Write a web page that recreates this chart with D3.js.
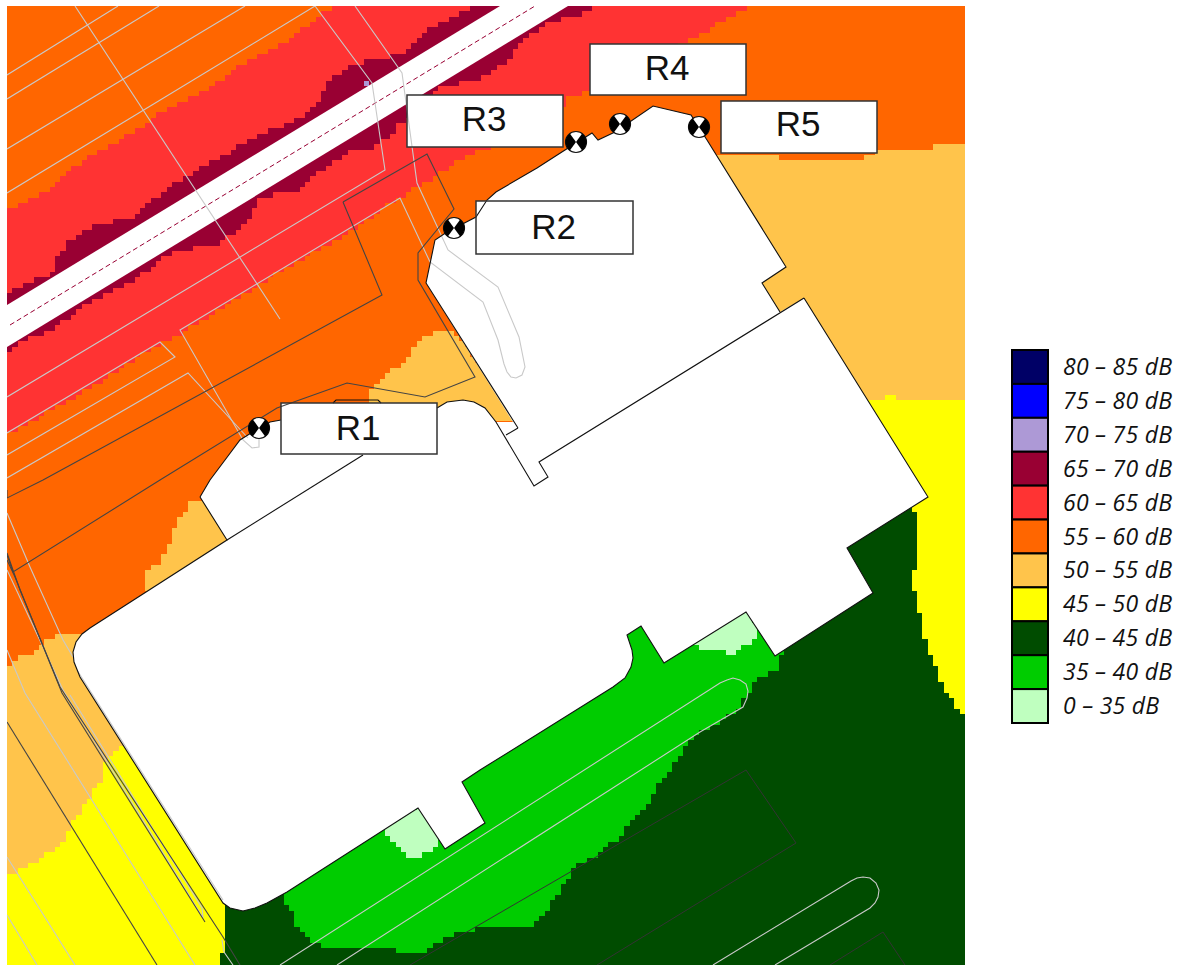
<!DOCTYPE html>
<html lang="en">
<head>
  <meta charset="UTF-8">
  <title>Noise contour map</title>
  <script src="https://d3js.org/d3.v7.min.js"></script>
  <style>
    body { margin: 0; background: #fff; }
    svg { display: block; }
    .site { fill: none; stroke: #c9c9c9; stroke-width: 1.1; }
    .zone { fill: none; stroke: #444; stroke-width: 1.1; }
    .zone-dim { fill: none; stroke: #333; stroke-width: 1; }
    .wall { fill: none; stroke: #111; stroke-width: 1.1; }
    .centre { fill: none; stroke: #990033; stroke-width: 1; stroke-dasharray: 5 3; }
    .receiver-box { fill: none; stroke: #333; stroke-width: 1.5; }
    .receiver-name { font: 35px "Liberation Sans", sans-serif; fill: #111; text-anchor: middle; }
    .legend-name { font: italic 23px "Open Sans", sans-serif; letter-spacing: 0.25px; fill: #111; }
  </style>
</head>
<body>
<svg width="1184" height="965"></svg>

<script>
  // legend
  const bandLabels = ["80 – 85 dB", "75 – 80 dB", "70 – 75 dB", "65 – 70 dB", "60 – 65 dB", "55 – 60 dB",
    "50 – 55 dB", "45 – 50 dB", "40 – 45 dB", "35 – 40 dB", "0 – 35 dB"];
  const bandColors = ["#000066", "#0000ff", "#ad99d6", "#990033", "#ff3333", "#ff6600",
    "#ffc44b", "#ffff00", "#004c00", "#00cc00", "#bfffbf"];

  // contour outlines, map coordinates
  const band60 = [[7,212],[43,193],[80,163],[140,128],[157,115],[213,87],[233,68],[287,42],[317,17],[335,5],
    [755,5],[748,8],[726,20],[707,30],[681,43],[620,75],[581,95],[565,100],[555,130],[480,150],[456,163],[441,172],
    [419,187],[400,197],[333,243],[287,267],[240,297],[200,322],[173,338],[143,353],[100,383],[57,407],[7,435]];
  const band65Upper = [[7,292],[43,277],[57,270],[57,258],[67,243],[90,228],[130,218],[177,182],[197,170],[233,150],
    [257,135],[293,123],[317,107],[328,80],[350,67],[367,60],[400,55],[418,37],[437,25],[474,8],[500,5],[540,30],[7,340]];
  const band65Lower = [[7,353],[20,343],[43,333],[67,320],[83,307],[110,293],[130,283],[150,270],[160,260],[177,250],
    [213,246],[240,230],[250,217],[260,197],[297,190],[323,170],[353,150],[373,147],[393,133],[400,123],[407,118],[427,92],[441,87],
    [485,77],[511,57],[522,38],[548,23],[585,13],[600,5],[540,5],[7,320]];
  const band70 = [[364,81],[370,81],[370,87],[364,87]];
  const band50East = [[715,155],[778,155],[778,160],[862,160],[862,153],[913,150],[955,144],[966,143],[966,405],[959,400],
    [913,400],[889,396],[878,400],[800,400],[700,300]];
  const band50Middle = [[370,403],[370,390],[393,370],[400,368],[418,343],[437,328],[450,328],[530,422],[440,422]];
  const band50West = [[145,590],[145,573],[157,565],[167,552],[177,520],[193,500],[205,498],[235,545],[150,595]];
  const band50South = [[7,667],[17,658],[30,655],[37,647],[47,640],[60,635],[90,635],[160,735],[120,747],[105,760],[103,780],
    [93,793],[83,808],[72,823],[65,840],[43,857],[17,870],[7,878]];
  const band45South = [[7,878],[17,870],[43,857],[65,840],[72,823],[83,808],[93,793],[103,780],[105,760],[120,747],[160,735],[260,905],
    [223,907],[223,955],[218,960],[218,970],[7,970]];
  const band45East = [[878,400],[889,396],[913,400],[959,400],[966,405],[970,713],[960,713],[955,703],[945,688],[940,677],[935,663],
    [930,652],[923,635],[923,615],[918,613],[918,590],[912,588],[912,568],[918,567],[918,517],[910,505],[850,480],[850,400]];
  const band40 = [[910,505],[918,517],[918,567],[912,568],[912,588],[918,590],[918,613],[923,615],[923,635],[930,652],[935,663],
    [940,677],[945,688],[955,703],[960,713],[970,713],[970,970],[218,970],[218,960],[223,955],[223,907],[240,850],[760,560],[880,490]];
  const band35 = [[286,893],[286,907],[297,913],[297,927],[313,943],[327,948],[360,948],[427,953],[430,948],[460,933],[480,928],
    [527,928],[542,917],[553,902],[563,887],[573,868],[593,857],[617,840],[630,823],[647,808],[657,787],[673,767],[683,750],
    [700,730],[720,722],[740,707],[750,690],[757,678],[777,670],[783,653],[770,620],[630,620],[280,880]];
  const band0West = [[385,830],[387,838],[397,848],[408,855],[418,860],[430,850],[440,843],[430,800],[385,825]];
  const band0East = [[693,645],[703,650],[725,652],[725,657],[735,657],[742,647],[750,643],[757,640],[757,630],[746,605],[693,640]];

  // 55-60 dB is the ground colour, later entries paint over earlier ones
  const contourLayers = [
    [band60, "60 – 65 dB"], [band65Upper, "65 – 70 dB"], [band65Lower, "65 – 70 dB"], [band70, "70 – 75 dB"],
    [band40, "40 – 45 dB"], [band50East, "50 – 55 dB"], [band50Middle, "50 – 55 dB"], [band50West, "50 – 55 dB"],
    [band50South, "50 – 55 dB"], [band45South, "45 – 50 dB"], [band45East, "45 – 50 dB"],
    [band35, "35 – 40 dB"], [band0West, "0 – 35 dB"], [band0East, "0 – 35 dB"]
  ];

  // road and buildings
  const roadStrip = [[7,305],[500,6],[568,6],[7,347]];
  const roadCentre = [[10,325],[535,6]];
  const buildingFill = [[200,497],[210,480],[225,460],[240,440],[259,428],[270,422],[281,420],[437,408],[447,402],[463,400],[474,402],
    [485,408],[496,422],[513,422],[426,283],[435,240],[447,232],[476,217],[487,200],[496,192],[537,168],[565,150],[592,133],[598,140],
    [615,132],[653,106],[691,115],[707,140],[786,267],[762,283],[780,312],[804,298],[928,497],[847,548],[873,593],[775,656],[746,612],
    [664,663],[641,626],[627,635],[632,650],[633,658],[631,667],[625,678],[613,687],[480,770],[462,782],[485,823],[445,849],[418,808],[287,892],
    [267,903],[255,908],[243,911],[230,908],[223,903],[80,677],[74,662],[73,652],[76,642],[82,634],[90,628],[227,540]];
  const walls = [
    [[200,497],[210,480],[225,460],[240,440],[259,428],[270,422],[281,420]],
    [[437,408],[447,402],[463,400],[474,402],[485,408],[496,422],[534,486],[548,477],[539,462],[804,298]],
    [[518,428],[426,283],[435,240],[447,232],[476,217],[487,200],[496,192],[537,168],[565,150],[592,133],[598,140],[615,132],
      [653,106],[691,115],[707,140],[786,267],[762,283],[780,312]],
    [[518,428],[506,435]],
    [[804,298],[928,497],[847,548],[873,593],[775,656],[746,612],[664,663],[641,626],[627,635],[632,650],[633,658],[631,667],[625,678],[613,687],
      [480,770],[462,782],[485,823],[445,849],[418,808],[287,892],[267,903],[255,908],[243,911],[230,908],[223,903],[80,677],[74,662],
      [73,652],[76,642],[82,634],[90,628],[227,540],[200,497]],
    [[227,540],[363,455]],
    [[333,403],[336,400],[378,400],[381,403]]
  ];

  // light grey site lines
  const siteLines = [
    [[75,6],[280,319]],
    [[7,75],[118,6]],
    [[7,99],[159,6]],
    [[7,149],[245,6]],
    [[7,193],[315,6]],
    [[7,397],[385,170],[372,83],[315,6]],
    [[259,433],[259,447],[252,448],[243,440],[180,330],[400,198],[430,262],[483,302],[498,340],[504,364],[507,372],[511,377],[516,378],[522,375],[525,367],
      [519,337],[498,287],[448,250],[417,183],[402,73],[355,6]],
    [[7,433],[160,342],[175,357],[7,455]],
    [[7,478],[188,373],[248,438]],
    [[7,513],[30,567],[63,640],[73,657]],
    [[77,670],[223,900]],
    [[7,570],[43,647],[63,690],[203,918],[202,908],[70,695]],
    [[7,650],[25,693],[195,965]],
    [[7,857],[75,965]],
    [[7,915],[37,965]],
    [[222,940],[224,952],[233,965]],
    [[280,965],[720,683],[727,680],[733,678],[740,680],[746,684],[748,691],[747,698],[743,707],[700,732],[337,965]],
    [[713,965],[851,881],[857,878],[863,877],[870,878],[876,883],[879,890],[878,897],[875,903],[870,908],[775,965]]
  ];

  // dark grey zone lines
  const zoneLines = [
    [[343,202],[427,154],[454,209],[418,253],[418,280],[475,377],[425,397],[347,383],[277,408],[160,480],[13,572],[7,555]],
    [[343,202],[382,295],[43,480],[7,498],[7,490]],
    [[7,553],[20,590],[60,687],[223,937],[240,965]],
    [[7,560],[15,577],[62,693],[205,922]],
    [[7,722],[157,965]]
  ];
  const zoneLinesDim = [
    [[410,965],[746,770],[796,843],[597,965]],
    [[830,965],[883,932],[905,965]]
  ];

  // receiver points
  const receiverNames = ["R1", "R2", "R3", "R4", "R5"];
  const receiverPoints = [[259,428],[454,228],[576,142],[620,124],[699,127]];
  const receiverBoxes = [[281,403,437,454],[476,201,633,254],[407,95,563,147],[590,44,746,95],[721,101,877,153]];
  const receiverBaselines = [440,239,131,80,136];

  const svg = d3.select("svg");
  const x = d3.scaleLinear().domain([7, 965]).range([7, 965]);
  const y = d3.scaleLinear().domain([6, 965]).range([6, 965]);
  const line = d3.line().x(d => x(d[0])).y(d => y(d[1]));
  const colorOf = d3.scaleOrdinal().domain(bandLabels).range(bandColors);

  svg.append("clipPath").attr("id", "mapClip").append("rect")
    .attr("x", x(7)).attr("y", y(6)).attr("width", x(965) - x(7)).attr("height", y(965) - y(6));
  const map = svg.append("g").attr("clip-path", "url(#mapClip)");

  map.append("rect")
    .attr("x", x(7)).attr("y", y(6)).attr("width", x(965) - x(7)).attr("height", y(965) - y(6))
    .attr("fill", colorOf("55 – 60 dB"));

  // the calculation grid: each cell takes the colour of the last contour holding its centre
  const cell = 958 / 180;
  const cellPaths = new Map(bandLabels.map(b => [b, d3.path()]));
  for (let i = 0; i < 181; i++) {
    for (let j = 0; j < 181; j++) {
      const cx = 7 + (i + 0.5) * cell;
      const cy = 6 + (j + 0.5) * cell;
      let band = null;
      contourLayers.forEach(layer => {
        if (d3.polygonContains(layer[0], [cx, cy])) band = layer[1];
      });
      if (band) cellPaths.get(band).rect(x(cx - cell / 2), y(cy - cell / 2), cell, cell);
    }
  }
  map.append("g").selectAll("path")
    .data(bandLabels)
    .join("path")
    .attr("d", b => cellPaths.get(b).toString())
    .attr("fill", b => colorOf(b))
    .attr("shape-rendering", "crispEdges");

  map.append("path").attr("d", line(roadStrip) + "Z").attr("fill", "#fff");
  map.append("path").attr("class", "centre").attr("d", line(roadCentre));
  map.append("path").attr("d", line(buildingFill) + "Z").attr("fill", "#fff");

  // box fill goes under the site lines, the border stays on top
  map.append("g").selectAll("rect")
    .data(receiverBoxes)
    .join("rect")
    .attr("x", d => x(d[0])).attr("y", d => y(d[1]))
    .attr("width", d => x(d[2]) - x(d[0])).attr("height", d => y(d[3]) - y(d[1]))
    .attr("fill", "#fff");

  map.append("g").selectAll("path").data(siteLines).join("path").attr("class", "site").attr("d", line);
  map.append("g").selectAll("path").data(zoneLines).join("path").attr("class", "zone").attr("d", line);
  map.append("g").selectAll("path").data(zoneLinesDim).join("path").attr("class", "zone-dim").attr("d", line);
  map.append("g").selectAll("path").data(walls).join("path").attr("class", "wall").attr("d", line);

  // receivers
  const wedge = d3.arc().innerRadius(0).outerRadius(10.5);
  const marker = map.append("g").selectAll("g")
    .data(receiverPoints)
    .join("g")
    .attr("transform", d => `translate(${x(d[0])},${y(d[1])})`);
  marker.append("circle").attr("r", 10.5).attr("fill", "#fff").attr("stroke", "#111").attr("stroke-width", 1.2);
  marker.selectAll("path")
    .data([[Math.PI / 5, 4 * Math.PI / 5], [6 * Math.PI / 5, 9 * Math.PI / 5]])
    .join("path")
    .attr("d", d => wedge({startAngle: d[0], endAngle: d[1]}))
    .attr("fill", "#000");

  const labels = map.append("g").selectAll("g")
    .data(receiverNames)
    .join("g");
  labels.append("rect")
    .attr("class", "receiver-box")
    .attr("x", (d, i) => x(receiverBoxes[i][0])).attr("y", (d, i) => y(receiverBoxes[i][1]))
    .attr("width", (d, i) => x(receiverBoxes[i][2]) - x(receiverBoxes[i][0]))
    .attr("height", (d, i) => y(receiverBoxes[i][3]) - y(receiverBoxes[i][1]));
  labels.append("text")
    .attr("class", "receiver-name")
    .attr("x", (d, i) => (x(receiverBoxes[i][0]) + x(receiverBoxes[i][2])) / 2 - 1)
    .attr("y", (d, i) => y(receiverBaselines[i]))
    .text(d => d);

  // legend
  const legendY = d3.scaleBand().domain(bandLabels).range([350, 723]);
  const legend = svg.append("g");
  legend.selectAll("rect")
    .data(bandLabels)
    .join("rect")
    .attr("x", 1012).attr("y", d => legendY(d))
    .attr("width", 36).attr("height", legendY.bandwidth())
    .attr("fill", d => colorOf(d))
    .attr("stroke", "#000").attr("stroke-width", 2);
  legend.selectAll("text")
    .data(bandLabels)
    .join("text")
    .attr("class", "legend-name")
    .attr("x", 1063).attr("y", d => legendY(d) + legendY.bandwidth() / 2 + 8)
    .text(d => d);
</script>
</body>
</html>
